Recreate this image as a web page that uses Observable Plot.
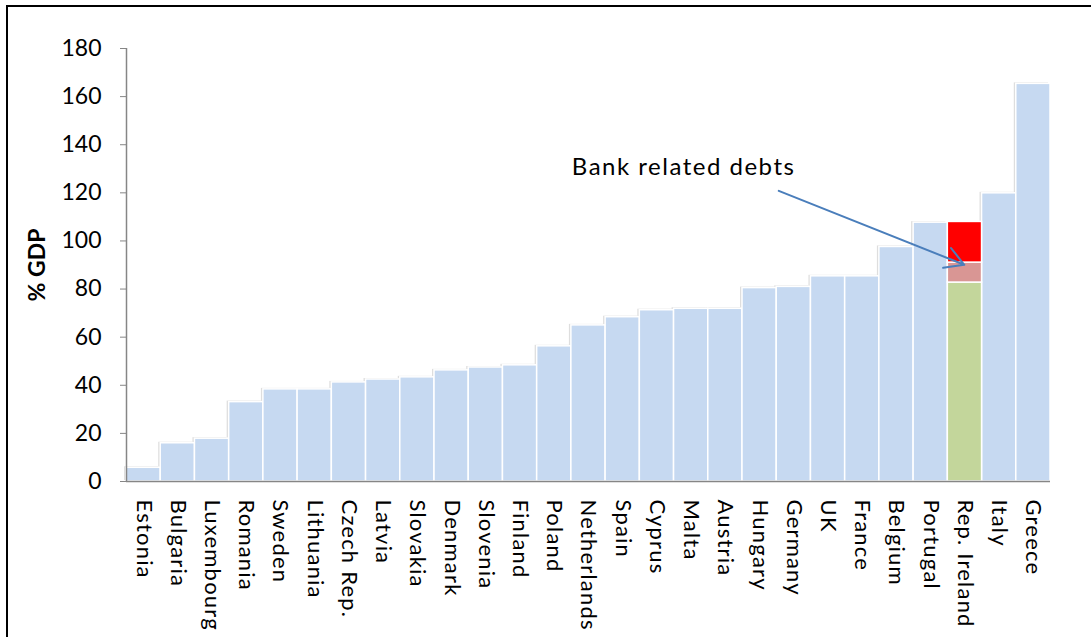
<!DOCTYPE html>
<html><head><meta charset="utf-8">
<script src="https://cdn.jsdelivr.net/npm/d3@7"></script>
<script src="https://cdn.jsdelivr.net/npm/@observablehq/plot@0.6"></script>
<style>
html,body{margin:0;padding:0;background:#fff;overflow:hidden;width:1091px;height:637px;}
#frame{position:absolute;left:6px;top:5px;width:1200px;height:800px;border-top:2px solid #000;border-left:2px solid #000;}
#chart{position:absolute;left:0;top:0;}
</style></head><body><div id="frame"></div><div id="chart"></div>
<script>
// Government debt, % of GDP
const countries = ["Estonia","Bulgaria","Luxembourg","Romania","Sweden","Lithuania","Czech Rep.","Latvia","Slovakia","Denmark","Slovenia","Finland","Poland","Netherlands","Spain","Cyprus","Malta","Austria","Hungary","Germany","UK","France","Belgium","Portugal","Rep. Ireland","Italy","Greece"];
const debt = [5.7,15.9,17.8,33.0,38.3,38.3,41.2,42.4,43.3,46.2,47.4,48.3,56.2,64.9,68.3,71.2,71.8,71.8,80.4,80.9,85.3,85.3,97.5,107.6,null,119.8,165.3];
// Rep. Ireland split: other debt, bank related (two parts)
const irelandParts = [82.7, 8.3, 16.9];
const irelandPartNames = ["Other debt","Bank related A","Bank related B"];
const irelandColors = ["#C3D69B","#D99694","#FF0000"];
const yTicks = [0,20,40,60,80,100,120,140,160,180];
const annotationText = ["Bank related debts"];
const annotationPos = [16.28, 130.6];
const arrowFrom = [19.06, 120.8];
const arrowTo = [24.48, 90.1];

const bars = countries.map((c,i)=>({i, country:c, value:debt[i]})).filter(d=>d.value!=null);
const irl = countries.indexOf("Rep. Ireland");
const parts = irelandParts.map((v,k)=>({i:irl, part:irelandPartNames[k], value:v, color:irelandColors[k], k}));

const chart = Plot.plot({
  width:1091, height:637,
  marginLeft:126, marginRight:41, marginTop:48, marginBottom:156,
  x:{domain:[0,countries.length], axis:null},
  y:{domain:[0,180], axis:null},
  style:{fontFamily:"Lato, 'Open Sans', sans-serif", background:"transparent", color:"#000", overflow:"visible"},
  marks:[
    Plot.rectY(bars,{x1:"i", x2:d=>d.i+1, y:"value", fill:"#dedede", dx:-2, dy:-1}),
    Plot.rectY(bars,{x1:"i", x2:d=>d.i+1, y:"value", fill:"#C6D9F1", stroke:"white", strokeWidth:1.5}),
    Plot.rectY(parts, Plot.stackY({x1:"i", x2:d=>d.i+1, y:"value", fill:"color", stroke:"white", strokeWidth:1.5, order:"k"})),
    Plot.ruleX([0],{y1:0, y2:180, stroke:"#868686", strokeWidth:1.5}),
    Plot.ruleY([0],{x1:0, x2:countries.length, stroke:"#868686", strokeWidth:1.5}),
    Plot.axisY({ticks:yTicks, tickSize:6, tickPadding:19, fontSize:23, stroke:"#868686", fill:"#000", label:null}),
    Plot.axisX({ticks:countries.map((c,i)=>i+0.5), tickFormat:d=>countries[Math.floor(d)], tickRotate:90, tickSize:0, tickPadding:18, fontSize:22, fill:"#000", label:null}),
    Plot.text(["% GDP"],{frameAnchor:"left", textAnchor:"middle", dx:-89, rotate:-90, fontWeight:"bold", fontSize:23, fill:"#000"}),
    Plot.text(annotationText,{x:annotationPos[0], y:annotationPos[1], text:d=>d, fontSize:24, fill:"#000"}),
    Plot.arrow([{x1:arrowFrom[0], y1:arrowFrom[1], x2:arrowTo[0], y2:arrowTo[1]}],{x1:"x1", y1:"y1", x2:"x2", y2:"y2", stroke:"#4A7EBB", strokeWidth:2, headLength:16, bend:0})
  ]
});
d3.select(chart).selectAll("text").each(function(){
  const t = this.textContent;
  if (countries.includes(t)) this.setAttribute("letter-spacing","1.2");
  else if (annotationText.includes(t)) this.setAttribute("letter-spacing","1.5");
});
document.getElementById("chart").appendChild(chart);
</script></body></html>
